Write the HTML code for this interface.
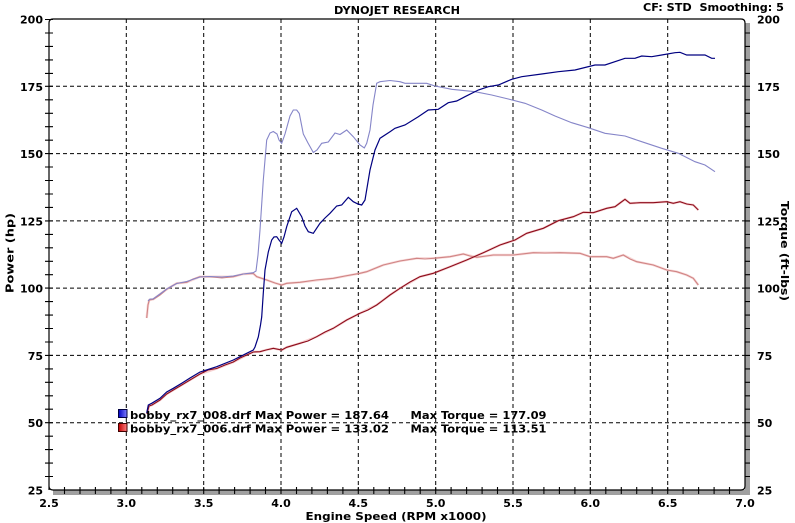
<!DOCTYPE html>
<html><head><meta charset="utf-8"><style>
html,body{margin:0;padding:0;background:#fff;}
svg{display:block;}
text{font-family:"DejaVu Sans","Liberation Sans",sans-serif;font-weight:bold;font-size:11px;fill:#000;}
</style></head><body>
<svg width="795" height="523" viewBox="0 0 795 523" xmlns="http://www.w3.org/2000/svg">
<defs>
<linearGradient id="gb" x1="0" x2="1" y1="0" y2="0"><stop offset="0" stop-color="#0000c0"/><stop offset="1" stop-color="#8080ff"/></linearGradient>
<linearGradient id="gr" x1="0" x2="1" y1="0" y2="0"><stop offset="0" stop-color="#c00000"/><stop offset="1" stop-color="#ff8080"/></linearGradient>
</defs>
<!-- shadow -->
<rect x="53" y="490" width="697" height="5" fill="#a0a0a0"/>
<rect x="745" y="23" width="5" height="472" fill="#a0a0a0"/>
<!-- grid -->
<g stroke="#000" stroke-width="1" stroke-dasharray="4,3" fill="none">
<line x1="126.3" y1="19" x2="126.3" y2="490"/>
<line x1="203.7" y1="19" x2="203.7" y2="490"/>
<line x1="281" y1="19" x2="281" y2="490"/>
<line x1="358.3" y1="19" x2="358.3" y2="490"/>
<line x1="435.7" y1="19" x2="435.7" y2="490"/>
<line x1="513" y1="19" x2="513" y2="490"/>
<line x1="590.3" y1="19" x2="590.3" y2="490"/>
<line x1="667.7" y1="19" x2="667.7" y2="490"/>
<line x1="49" y1="86.3" x2="745" y2="86.3"/>
<line x1="49" y1="153.6" x2="745" y2="153.6"/>
<line x1="49" y1="220.9" x2="745" y2="220.9"/>
<line x1="49" y1="288.1" x2="745" y2="288.1"/>
<line x1="49" y1="355.4" x2="745" y2="355.4"/>
<line x1="49" y1="422.7" x2="745" y2="422.7"/>
</g>
<!-- border -->
<path d="M49,490 L49,23 Q49,19 53,19 L741,19 Q745,19 745,23 L745,486 Q745,490 741,490 L53,490 Q49,490 49,486" fill="none" stroke="#000" stroke-width="1.2"/>
<!-- curves -->
<polyline fill="none" stroke="#f0b0b0" stroke-width="2.4" opacity="0.5" points="146.7,318 148,305 149.3,300 153.3,299.3 166.7,289.3 176.7,283.3 186.7,282.3 200,276.7 210,276.7 233.3,276.7 243.3,274 253.3,273.5 256.7,276.7 266.7,280 275,283 281.7,285 286.7,283.3 300,282.3 333.3,278.3 360,273.3 366.7,271.7 383.3,265 400,261 416.7,258.3 433.3,258.3 450,256.7 463.3,254 476.7,257.3 493.3,255 513.3,255 533.3,252.7 560,252.7 580,253.3 590,256.7 606.7,256.7 613.3,258.3 623.3,255 636.7,261.7 653.3,265 666.7,270 676.7,271.7 686.7,275 693.3,278.3 698.3,285"/>
<polyline fill="none" stroke="#d08484" stroke-width="1.1" points="146.7,318 148,305 149.3,300 153.3,299.3 160,295 166.7,289.3 172,286 176.7,283.3 186.7,282.3 193,279 200,276.7 210,276.7 222,278 233.3,276.7 243.3,274 253.3,273.5 256.7,276.7 266.7,280 275,283 281.7,285 286.7,283.3 300,282.3 316,280 333.3,278.3 345,276 360,273.3 366.7,271.7 383.3,265 400,261 416.7,258.3 425,259 433.3,258.3 450,256.7 463.3,254 470,256 476.7,257.3 493.3,255 513.3,255 533.3,252.7 545,253 560,252.7 580,253.3 590,256.7 606.7,256.7 613.3,258.3 623.3,255 630,259 636.7,261.7 653.3,265 666.7,270 676.7,271.7 686.7,275 693.3,278.3 698.3,285"/>
<polyline fill="none" stroke="#8585c8" stroke-width="1.1" points="148,301 150,299 153,299 160,294 166.7,289 176.7,283.5 186.7,281.5 200,277 210,276.5 222,277 233.3,276 243.3,274 253.3,272.7 256,271 258,255 260,230 263.3,180 266.7,140 270,133 273.3,131.5 277,134 279,140 281.7,143.3 285,134 290,116 293.3,110 296.7,110 299.3,113.5 303.3,134 308,143 313.3,152.5 317,150 321.7,143.3 328.3,142 335,133 340,134.5 346.7,130 353.3,136.7 360,145 364.3,148 366.7,143.3 370,130 373,105 376.7,83.3 380,81.7 390,80.5 400,81.7 405,83.3 426.7,83.3 435,86 451.7,89.3 475,91.7 491.7,95 508.3,99 525,103.3 541.7,110 555,116 571.7,122.7 588.3,127.7 605,133.3 625,136 641.7,141.7 661.7,148.3 678.3,153.3 695,161.7 705,165 715,171.7"/>
<polyline fill="none" stroke="#f0a0a0" stroke-width="2.4" opacity="0.5" points="147,414 149,406 152,405 160,400 166.7,394 173.3,390 181.7,385 190,380 200,374 216.7,368.5 233.3,362 246.7,355 253.3,352 260,351.7 266,350 273.3,348.3 281.7,350 286.7,347.3 300,343.3 316.7,336.7 333.3,328.3 346.7,320 360,313.3 376.7,305 390,295 400,288.3 420,276.7 433.3,273.3 450,266.7 466.7,260 483.3,252.7 500,245 515,240 526.7,233.3 543.3,228.3 558.3,220.7 573.3,216.7 583.3,212.3 593.3,212.7 606.7,208.3 615,206.7 620,203 625,199.3 630,203.3 640,202.7 653.3,202.7 666.7,201.7 673.3,203.3 680,201.7 686.7,204 693.3,205 698.3,210"/>
<polyline fill="none" stroke="#8c0c1c" stroke-width="1.1" points="147,414 149,406 152,405 160,400 166.7,394 173.3,390 181.7,385 190,380 200,374 208,370 216.7,368.5 225,365 233.3,362 240,358 246.7,355 253.3,352 260,351.7 266,350 273.3,348.3 281.7,350 286.7,347.3 300,343.3 308,341 316.7,336.7 325,332 333.3,328.3 346.7,320 360,313.3 368,310 376.7,305 390,295 400,288.3 410,282 420,276.7 433.3,273.3 450,266.7 466.7,260 483.3,252.7 500,245 515,240 526.7,233.3 543.3,228.3 558.3,220.7 573.3,216.7 583.3,212.3 593.3,212.7 606.7,208.3 615,206.7 620,203 625,199.3 630,203.3 640,202.7 653.3,202.7 666.7,201.7 673.3,203.3 680,201.7 686.7,204 693.3,205 698.3,210"/>
<polyline fill="none" stroke="#000080" stroke-width="1.2" points="146.7,413 148.3,405 151.7,403.3 160,398.3 166.7,392 173.3,388.3 181.7,383.3 190,378 200,372 216.7,366.7 233.3,360 246.7,353.3 253.3,350 255,347 258.3,337 260.5,325 261.7,317 263.3,293 265,270 268.3,252 271.7,240 274,237 276.7,236.7 279,240 281.7,243.3 284,237 286.7,226.7 291.7,211.7 296.7,208.3 301.7,216.7 305,226 308.3,231.7 313.3,233.3 320,223.3 325,218 330,213.3 336.7,206 341.7,205 348.3,197.3 353.3,201.7 358,204 361.7,205 365,200 367.5,185 370,170 375,150 380,138.3 390,131.7 395,128.3 405,125 418.3,116.7 428.3,110 438.3,109.3 448.3,102.7 456.7,101 465,96.7 478.3,90 488.3,86.7 498.3,85 511.7,79.3 521.7,76.7 541.7,74 558.3,71.7 575,70 595,65 605,65 625,58.3 635,58.3 641.7,56 651.7,56.7 661.7,55 675,52.7 680,52.3 686.7,55 705,55 711.7,58.3 715,58.3"/>
<!-- legend -->
<rect x="118.5" y="409.5" width="8.5" height="8" fill="url(#gb)" stroke="#000040" stroke-width="1"/>
<rect x="118.5" y="423.5" width="8.5" height="8" fill="url(#gr)" stroke="#400000" stroke-width="1"/>
<text x="130" y="419" textLength="259" lengthAdjust="spacingAndGlyphs">bobby_rx7_008.drf Max Power = 187.64</text>
<text x="130" y="432.5" textLength="259" lengthAdjust="spacingAndGlyphs">bobby_rx7_006.drf Max Power = 133.02</text>
<text x="410.5" y="419" textLength="136" lengthAdjust="spacingAndGlyphs">Max Torque = 177.09</text>
<text x="410.5" y="432.5" textLength="136" lengthAdjust="spacingAndGlyphs">Max Torque = 113.51</text>
<!-- titles -->
<text x="334" y="14" textLength="126" lengthAdjust="spacingAndGlyphs">DYNOJET RESEARCH</text>
<text x="643" y="11" textLength="141" lengthAdjust="spacingAndGlyphs">CF: STD&#160; Smoothing: 5</text>
<text x="396" y="520" text-anchor="middle" textLength="181" lengthAdjust="spacingAndGlyphs">Engine Speed (RPM x1000)</text>
<text transform="translate(13.5,253) rotate(-90)" text-anchor="middle" textLength="80" lengthAdjust="spacingAndGlyphs">Power (hp)</text>
<text transform="translate(781,251) rotate(90)" text-anchor="middle" textLength="100" lengthAdjust="spacingAndGlyphs">Torque (ft-lbs)</text>
<!-- left labels -->
<g text-anchor="end">
<text x="43" y="23.5">200</text>
<text x="43" y="90.8">175</text>
<text x="43" y="158.1">150</text>
<text x="43" y="225.4">125</text>
<text x="43" y="292.6">100</text>
<text x="43" y="359.9">75</text>
<text x="43" y="427.2">50</text>
<text x="43" y="494.5">25</text>
</g>
<g text-anchor="start">
<text x="757" y="23.5">200</text>
<text x="757" y="90.8">175</text>
<text x="757" y="158.1">150</text>
<text x="757" y="225.4">125</text>
<text x="757" y="292.6">100</text>
<text x="757" y="359.9">75</text>
<text x="757" y="427.2">50</text>
<text x="757" y="494.5">25</text>
</g>
<g text-anchor="middle">
<text x="49" y="507">2.5</text>
<text x="126.3" y="507">3.0</text>
<text x="203.7" y="507">3.5</text>
<text x="281" y="507">4.0</text>
<text x="358.3" y="507">4.5</text>
<text x="435.7" y="507">5.0</text>
<text x="513" y="507">5.5</text>
<text x="590.3" y="507">6.0</text>
<text x="667.7" y="507">6.5</text>
<text x="745" y="507">7.0</text>
</g>
<g stroke="#000" stroke-width="1.1">
<path d="M45,19.5h8M45,33h8M45,46.4h8M45,59.9h8M45,73.4h8M45,86.3h8M45,99.8h8M45,113.3h8M45,126.7h8M45,140.2h8M45,153.6h8M45,167h8M45,180.5h8M45,194h8M45,207.4h8M45,220.9h8M45,234.4h8M45,247.8h8M45,261.3h8M45,274.7h8M45,288.1h8M45,301.6h8M45,315.1h8M45,328.5h8M45,342h8M45,355.4h8M45,368.9h8M45,382.3h8M45,395.8h8M45,409.2h8M45,422.7h8M45,436.2h8M45,449.6h8M45,463.1h8M45,476.5h8"/>
<path d="M745,33h5M745,46.4h5M745,59.9h5M745,73.4h5M745,86.3h5M745,99.8h5M745,113.3h5M745,126.7h5M745,140.2h5M745,153.6h5M745,167h5M745,180.5h5M745,194h5M745,207.4h5M745,220.9h5M745,234.4h5M745,247.8h5M745,261.3h5M745,274.7h5M745,288.1h5M745,301.6h5M745,315.1h5M745,328.5h5M745,342h5M745,355.4h5M745,368.9h5M745,382.3h5M745,395.8h5M745,409.2h5M745,422.7h5M745,436.2h5M745,449.6h5M745,463.1h5M745,476.5h5"/>
<path d="M64.5,487v7M80,487v7M95.4,487v7M110.9,487v7M126.3,487v7M141.8,487v7M157.3,487v7M172.7,487v7M188.2,487v7M203.7,487v7M219.1,487v7M234.6,487v7M250.1,487v7M265.5,487v7M281,487v7M296.5,487v7M311.9,487v7M327.4,487v7M342.9,487v7M358.3,487v7M373.8,487v7M389.3,487v7M404.7,487v7M420.2,487v7M435.7,487v7M451.1,487v7M466.6,487v7M482.1,487v7M497.5,487v7M513,487v7M528.5,487v7M543.9,487v7M559.4,487v7M574.9,487v7M590.3,487v7M605.8,487v7M621.3,487v7M636.7,487v7M652.2,487v7M667.7,487v7M683.1,487v7M698.6,487v7M714.1,487v7M729.5,487v7"/>
</g>
</svg>
</body></html>
